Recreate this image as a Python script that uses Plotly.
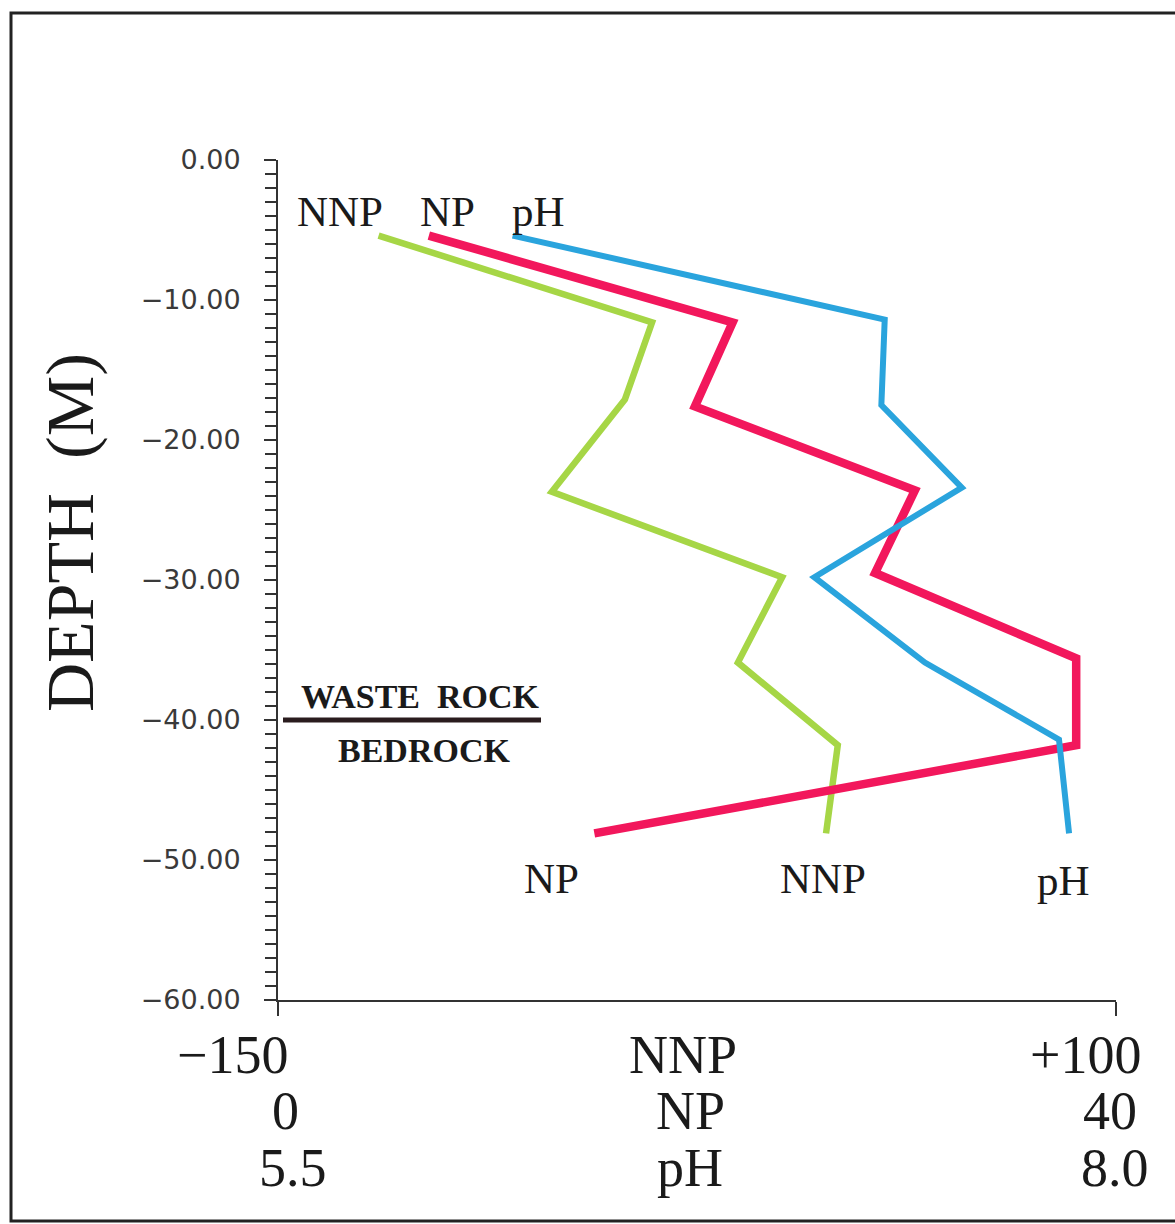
import plotly.graph_objects as go

# Depth profile through waste rock into bedrock
nnp_depth = [-5.4, -11.6, -17.1, -23.7, -29.8, -35.9, -41.8, -48.1]
nnp_values = [-120, -38.4, -46.5, -68.3, 0.4, -12.8, 17, 13.5]

np_depth = [-5.4, -11.6, -17.6, -23.6, -29.5, -35.6, -41.8, -48.1]
np_values = [7.2, 21.7, 19.9, 30.4, 28.5, 38.1, 38.1, 15.1]

ph_depth = [-5.4, -11.4, -17.5, -23.4, -29.8, -35.9, -41.4, -48.1]
ph_values = [6.20, 7.31, 7.30, 7.54, 7.10, 7.43, 7.83, 7.86]

depth_ticks = [0, -10, -20, -30, -40, -50, -60]
depth_tick_text = ["0.00", "−10.00", "−20.00", "−30.00", "−40.00", "−50.00", "−60.00"]

nnp_range = [-150, 100]
np_range = [0, 40]
ph_range = [5.5, 8.0]

contact_depth = -40

W, H = 1175, 1224


def px(x):
    return x / W


def py(y):
    return 1 - y / H


serif = "Liberation Serif"
ink = "#1a1a1a"

fig = go.Figure()
fig.add_trace(go.Scatter(x=ph_values, y=ph_depth, xaxis="x3", mode="lines",
                         line=dict(color="#2aa4dd", width=6), name="pH"))
fig.add_trace(go.Scatter(x=nnp_values, y=nnp_depth, xaxis="x", mode="lines",
                         line=dict(color="#a6d646", width=6.5), name="NNP"))
fig.add_trace(go.Scatter(x=np_values, y=np_depth, xaxis="x2", mode="lines",
                         line=dict(color="#f2175c", width=8.5), name="NP"))

x_domain = [px(278), px(1116)]
fig.update_layout(
    width=W, height=H,
    margin=dict(l=0, r=0, t=0, b=0, autoexpand=False),
    paper_bgcolor="white", plot_bgcolor="white",
    showlegend=False,
    xaxis=dict(domain=x_domain, range=nnp_range, showgrid=False, zeroline=False,
               automargin=False,
               showline=True, linecolor="#333", linewidth=2,
               tickvals=nnp_range, ticks="outside", ticklen=14, tickwidth=2,
               tickcolor="#333", showticklabels=False),
    xaxis2=dict(overlaying="x", range=np_range, visible=False),
    xaxis3=dict(overlaying="x", range=ph_range, visible=False),
    yaxis=dict(domain=[py(1000), py(160)], range=[-60, 0], showgrid=False,
               automargin=False,
               zeroline=False, showline=True, linecolor="#333", linewidth=2,
               tickvals=depth_ticks, ticktext=depth_tick_text, ticks="outside",
               ticklen=12, tickwidth=2, tickcolor="#333", ticklabelstandoff=18,
               tickfont=dict(family="DejaVu Sans", size=27, color="#3a3a3a"),
               minor=dict(tick0=0, dtick=1, ticks="outside", ticklen=11,
                          tickwidth=2, tickcolor="#333")),
)

# frame around the figure
fig.add_shape(type="rect", xref="paper", yref="paper",
              x0=px(11), x1=px(1185), y0=py(1221), y1=py(13),
              line=dict(color="#222", width=3))

# waste rock / bedrock contact
fig.add_shape(type="line", xref="paper", yref="y",
              x0=px(283), x1=px(541), y0=contact_depth, y1=contact_depth,
              line=dict(color="#2a1c1e", width=5))

annotations = []


def label(text, x, y, size, bold=False, xanchor="center"):
    annotations.append(dict(
        text=f"<b>{text}</b>" if bold else text, xref="paper", yref="paper",
        x=px(x), y=py(y), xanchor=xanchor, yanchor="middle", showarrow=False,
        font=dict(family=serif, size=size, color=ink)))


label("WASTE  ROCK", 420, 696, 34, bold=True)
label("BEDROCK", 424, 750, 34, bold=True)

# series names at the top and bottom of the profiles
label("NNP", 340, 211, 43)
label("NP", 447, 211, 43)
label("pH", 538, 211, 43)
label("NP", 551, 878, 43)
label("NNP", 823, 878, 43)
label("pH", 1063, 880, 43)

# scale legend under the axis
label("−150", 232, 1055, 54)
label("NNP", 683, 1055, 54)
label("+100", 1085, 1055, 54)
label("0", 285, 1111, 54)
label("NP", 690, 1111, 54)
label("40", 1110, 1111, 54)
label("5.5", 293, 1168, 54)
label("pH", 690, 1168, 54)
label("8.0", 1115, 1168, 54)

annotations.append(dict(
    text="DEPTH  (M)", xref="paper", yref="paper", x=px(70), y=py(533),
    textangle=-90, showarrow=False, xanchor="center", yanchor="middle",
    font=dict(family=serif, size=68, color=ink)))

fig.update_layout(annotations=annotations)

fig.write_html("out.html")
